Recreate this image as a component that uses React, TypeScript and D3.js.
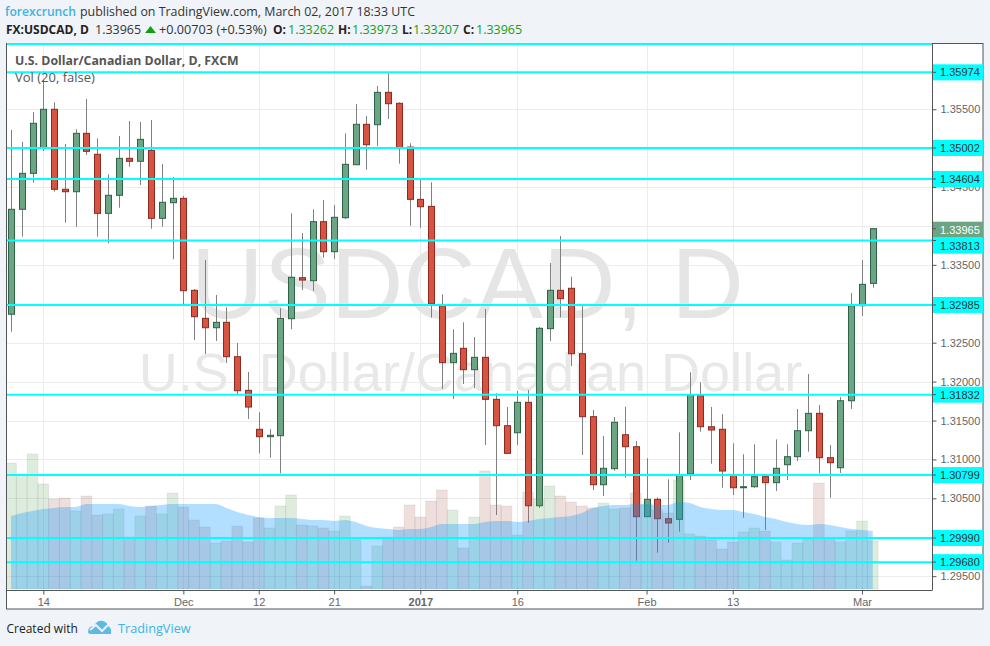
import React, { useEffect, useRef } from 'react'
import * as d3 from 'd3'

// daily USD/CAD candles, oldest first
const opens = [1.32865,1.34214,1.34676,1.34998,1.35499,1.34471,1.3444,1.3519,1.34921,1.34162,1.34394,1.34869,1.34831,1.34972,1.34098,1.34299,1.34355,1.33173,1.32813,1.32692,1.32762,1.3232,1.31888,1.31387,1.31292,1.31305,1.32808,1.33335,1.33296,1.34055,1.33669,1.34106,1.34787,1.35306,1.35301,1.35717,1.35576,1.35014,1.34342,1.34252,1.32975,1.32243,1.32428,1.32153,1.32312,1.31772,1.31433,1.31343,1.31734,1.30405,1.3268,1.33173,1.33199,1.32358,1.31549,1.30675,1.30881,1.31317,1.31163,1.30264,1.30487,1.30238,1.3023,1.30812,1.31819,1.3142,1.31387,1.30796,1.30636,1.30649,1.30778,1.30701,1.30932,1.31035,1.31369,1.31592,1.31022,1.30893,1.31754,1.32975,1.33262]
const highs = [1.35233,1.35079,1.35464,1.35875,1.35589,1.35053,1.35242,1.35631,1.35126,1.34664,1.35156,1.35349,1.35336,1.35361,1.34796,1.34629,1.34385,1.3319,1.33562,1.33113,1.32955,1.32496,1.32123,1.31605,1.31391,1.32942,1.34162,1.33909,1.34214,1.34333,1.34269,1.3519,1.35567,1.35413,1.35798,1.35961,1.35589,1.35062,1.3459,1.34561,1.33122,1.32672,1.32762,1.32573,1.32933,1.3185,1.31673,1.31879,1.31892,1.32701,1.33524,1.33871,1.33348,1.32975,1.31635,1.31301,1.31545,1.31677,1.31237,1.31014,1.30513,1.30744,1.31348,1.32119,1.31991,1.31673,1.31583,1.31207,1.31066,1.31194,1.30787,1.31258,1.31194,1.31648,1.32097,1.31699,1.31185,1.31802,1.33138,1.33562,1.33973]
const lows = [1.32641,1.33862,1.34556,1.34963,1.3444,1.34042,1.3399,1.34912,1.33862,1.33777,1.34234,1.34761,1.34526,1.33965,1.3399,1.33571,1.32997,1.32534,1.32354,1.32522,1.32239,1.3184,1.31519,1.31078,1.31022,1.30821,1.32672,1.33177,1.33164,1.33592,1.33575,1.34089,1.34783,1.34723,1.35027,1.35374,1.348,1.34003,1.33977,1.32821,1.31905,1.31776,1.31969,1.31914,1.31185,1.30286,1.31078,1.31185,1.30187,1.30376,1.32522,1.32826,1.322,1.31057,1.30607,1.3053,1.30855,1.30765,1.29698,1.3026,1.29801,1.2993,1.30071,1.30735,1.31356,1.30945,1.30636,1.30543,1.30251,1.30636,1.30093,1.30594,1.30735,1.3098,1.31099,1.30821,1.30508,1.30825,1.31648,1.32843,1.33207]
const closes = [1.34214,1.34676,1.35319,1.35499,1.34471,1.3444,1.3519,1.34959,1.34162,1.34394,1.34869,1.34831,1.35113,1.34098,1.34304,1.34355,1.33168,1.32834,1.32692,1.32762,1.3232,1.31883,1.31673,1.31292,1.3131,1.32813,1.3334,1.33305,1.34055,1.33669,1.34111,1.34792,1.35306,1.35044,1.35717,1.35571,1.35005,1.34342,1.34247,1.32997,1.32243,1.32363,1.32153,1.32312,1.31772,1.31433,1.31078,1.31734,1.30405,1.32685,1.33173,1.33065,1.32358,1.31549,1.30675,1.30886,1.31477,1.31163,1.30264,1.30487,1.30238,1.30183,1.308,1.31828,1.3142,1.31378,1.30851,1.30636,1.30649,1.30778,1.30701,1.30886,1.31035,1.31369,1.31592,1.31022,1.30958,1.31754,1.32975,1.3325,1.33965]

// volume and its 20 day average, in the picture's own relative units
const volumes = [126,114,135,105,90,91,78,93,74,75,80,52,73,83,75,96,82,69,62,46,48,63,47,71,61,83,94,64,63,61,58,73,49,3,43,52,62,84,72,88,99,79,41,72,118,84,83,54,97,90,103,93,87,83,81,86,80,81,96,84,79,76,109,55,53,49,40,47,57,61,58,47,29,46,50,106,51,47,58,68,48]
const volumeAvg = [73,76,78,80,81,82,82,85,85,85,85,83,82,83,84,85,85,85,85,85,81,77,74,72,71,71,71,70,69,69,68,69,67,63,61,60,59,60,60,62,65,65,65,65,67,68,68,67,68,70,71,72,73,76,81,83,84,84,85,85,84,84,87,86,82,80,79,79,77,75,72,70,67,65,64,65,64,62,60,59,58]

const levels = [1.35974, 1.35002, 1.34604, 1.33813, 1.32985, 1.31832, 1.30799, 1.2999, 1.2968]
const topLevel = 1.36338
const priceTicks = [1.355, 1.35, 1.345, 1.34, 1.335, 1.33, 1.325, 1.32, 1.315, 1.31, 1.305, 1.295]
// these three sit right under a level label, so they never show a number
const hiddenPriceLabels = [1.35, 1.34, 1.33]
const lastPrice = 1.33965

const dateTicks = [3, 16, 23, 30, 38, 47, 59, 67, 79]
const dateLabels = ['14', 'Dec', '12', '21', '2017', '16', 'Feb', '13', 'Mar']

const UP = '#6ba583'
const DOWN = '#d75442'
const CYAN = '#00ffff'
const BLUE = '#3bb3e4'
const GREEN_TEXT = '#12a012'
const SANS = '"Open Sans", sans-serif'
const ARIAL = '"Liberation Sans", Arial, sans-serif'

const left = 7
const right = 932
const top = 43
const bottom = 590

const App = () => {
  const ref = useRef<SVGSVGElement>(null)

  useEffect(() => {
    const svg = d3.select(ref.current)
    svg.selectAll('*').remove()

    const x = d3.scaleLinear().domain([-0.37, 85.5]).range([left, right])
    const y = d3.scaleLinear().domain([1.36351, 1.29322]).range([top, bottom])
    const yVol = d3.scaleLinear().domain([0, 140]).range([589, 449])
    const idx = d3.range(opens.length)

    svg.append('rect').attr('width', 990).attr('height', 646).attr('fill', '#f0f3f7')
    svg.append('rect')
      .attr('x', 6.5).attr('y', 43.5).attr('width', 976.5).attr('height', 565.5)
      .attr('fill', '#fff').attr('stroke', '#555')

    svg.append('clipPath').attr('id', 'plot').append('rect')
      .attr('x', left).attr('y', top).attr('width', right - left).attr('height', bottom - top)

    // grid
    const grid = svg.append('g').attr('stroke', '#ececec')
    priceTicks.forEach((p) => {
      grid.append('line').attr('x1', left).attr('x2', right)
        .attr('y1', Math.round(y(p)) + 0.5).attr('y2', Math.round(y(p)) + 0.5)
    })
    dateTicks.forEach((i) => {
      grid.append('line').attr('y1', top).attr('y2', bottom)
        .attr('x1', Math.round(x(i)) + 0.5).attr('x2', Math.round(x(i)) + 0.5)
    })

    // watermark
    svg.append('text').text('USDCAD, D')
      .attr('x', 467.5).attr('y', 318).attr('text-anchor', 'middle')
      .attr('font-family', ARIAL).attr('font-size', 100.5).attr('fill', '#e5e5e5')
    svg.append('text').text('U.S. Dollar/Canadian Dollar')
      .attr('x', 470.5).attr('y', 391).attr('text-anchor', 'middle')
      .attr('font-family', ARIAL).attr('font-size', 54).attr('fill', '#e8e8e8')

    const plot = svg.append('g').attr('clip-path', 'url(#plot)')

    // candles
    const candles = plot.append('g').selectAll('g').data(idx).enter().append('g')
    candles.append('line')
      .attr('x1', (i) => Math.round(x(i)) + 0.5).attr('x2', (i) => Math.round(x(i)) + 0.5)
      .attr('y1', (i) => y(highs[i])).attr('y2', (i) => y(lows[i]))
      .attr('stroke', '#808082')
    candles.append('rect')
      .attr('x', (i) => Math.round(x(i)) - 2.5)
      .attr('width', 6)
      .attr('y', (i) => y(Math.max(opens[i], closes[i])))
      .attr('height', (i) => Math.max(Math.abs(y(opens[i]) - y(closes[i])), 1))
      .attr('fill', (i) => (closes[i] >= opens[i] ? UP : DOWN))
      .attr('stroke', (i) => (closes[i] >= opens[i] ? '#2f6347' : '#8a2a20'))

    // volume on top of the candles
    const barW = x(1) - x(0)
    plot.append('g').selectAll('rect').data(idx).enter().append('rect')
      .attr('x', (i) => x(i) - barW / 2)
      .attr('width', barW)
      .attr('y', (i) => yVol(volumes[i]))
      .attr('height', (i) => yVol(0) - yVol(volumes[i]))
      .attr('fill', (i) => (closes[i] >= opens[i] ? 'rgba(92,160,92,0.2)' : 'rgba(168,88,78,0.2)'))
      .attr('stroke', 'rgba(110,110,110,0.1)')
    const area = d3.area<number>()
      .x((i) => x(i))
      .y0(yVol(0))
      .y1((i) => yVol(volumeAvg[i]))
      .curve(d3.curveMonotoneX)
    plot.append('path').attr('d', area(idx)).attr('fill', 'rgba(0,150,255,0.3)')

    // horizontal levels
    plot.append('g').selectAll('line').data([topLevel, ...levels]).enter().append('line')
      .attr('x1', left).attr('x2', right)
      .attr('y1', (p) => y(p)).attr('y2', (p) => y(p))
      .attr('stroke', CYAN).attr('stroke-width', 2)

    // axes
    const yAxis = svg.append('g').attr('transform', `translate(${right + 0.5},0)`)
      .call(d3.axisRight(y).tickValues(priceTicks).tickSize(4).tickPadding(4)
        .tickFormat((d) => (hiddenPriceLabels.includes(d as number) ? '' : d3.format('.5f')(d as number))))
    yAxis.select('.domain').attr('d', `M0,${top}V${bottom}`).attr('stroke', '#555')
    yAxis.selectAll('line').attr('stroke', '#555')
    yAxis.selectAll('text').attr('font-family', ARIAL).attr('font-size', 11).attr('fill', '#666')

    const xAxis = svg.append('g').attr('transform', `translate(0,${bottom + 0.5})`)
      .call(d3.axisBottom(x).tickValues(dateTicks).tickSize(4).tickPadding(4)
        .tickFormat((d, i) => dateLabels[i]))
    xAxis.select('.domain').attr('d', `M${left},0H${right + 0.5}`).attr('stroke', '#555')
    xAxis.selectAll('line').attr('stroke', '#555')
    xAxis.selectAll('text').attr('font-family', ARIAL).attr('font-size', 11).attr('fill', '#666')
      .attr('font-weight', (d) => (d === 38 ? 'bold' : 'normal'))

    // price labels
    const priceLabel = (p, cy, bg, fg) => {
      const g = svg.append('g')
      g.append('rect').attr('x', right + 1).attr('y', cy - 8).attr('width', 50).attr('height', 16).attr('fill', bg)
      g.append('line').attr('x1', right).attr('x2', right + 4)
        .attr('y1', y(p)).attr('y2', y(p)).attr('stroke', '#555')
      g.append('text').text(d3.format('.5f')(p))
        .attr('x', right + 8).attr('y', cy + 4)
        .attr('font-family', ARIAL).attr('font-size', 11).attr('fill', fg)
    }
    const lastY = y(lastPrice)
    priceLabel(lastPrice, lastY + 1, UP, '#fff')
    levels.forEach((p) => {
      let cy = y(p)
      // labels that would sit on the last price get pushed below it
      if (Math.abs(cy - lastY) < 16) cy = lastY + 17
      priceLabel(p, cy, CYAN, '#333')
    })

    // header
    const label = (t, tx, ty, size, fill, weight = 'normal', family = SANS) =>
      svg.append('text').text(t).attr('x', tx).attr('y', ty)
        .attr('font-family', family).attr('font-size', size)
        .attr('fill', fill).attr('font-weight', weight)

    // font hinting makes these jump in width between sizes, so pin them
    label('forexcrunch', 5, 16, 13, BLUE, '600').attr('textLength', 71).attr('lengthAdjust', 'spacingAndGlyphs')
    label('published on TradingView.com, March 02, 2017 18:33 UTC', 80, 16, 13, '#333')
      .attr('textLength', 335).attr('lengthAdjust', 'spacingAndGlyphs')
    label('FX:USDCAD, D', 6, 34, 12, '#222', 'bold')
    label('1.33965', 95, 34, 12.5, '#333')
    svg.append('path').attr('d', d3.line()([[145, 33], [156, 33], [150.5, 26]]) + 'Z').attr('fill', GREEN_TEXT)
    label('+0.00703 (+0.53%)', 159, 34, 12.7, '#333')
    const ohlc = [['O:', 273, '1.33262', 288], ['H:', 338, '1.33973', 352], ['L:', 402, '1.33207', 413], ['C:', 463, '1.33965', 476]]
    ohlc.forEach(([k, kx, v, vx]) => {
      label(k, kx, 34, 12, '#222', 'bold')
      label(v, vx, 34, 12.5, GREEN_TEXT)
    })

    label('U.S. Dollar/Canadian Dollar, D, FXCM', 15, 65, 12.3, '#555', 'bold')
    label('Vol (20, false)', 15, 82, 13, '#555')

    // footer
    label('Created with', 6.5, 633, 12, '#222')
    svg.append('path')
      .attr('d', 'M88,632 Q88,626 94,626 Q97,620 103,621 Q107,622 108,626 Q112,628 111,634 L92,634 Q88,634 88,632 Z')
      .attr('fill', '#5fb9e6')
    svg.append('path')
      .attr('d', 'M90,630 L96,625 L102,631 L108,625')
      .attr('fill', 'none').attr('stroke', '#f0f3f7').attr('stroke-width', 2)
    label('TradingView', 118, 633, 12.7, BLUE)
  }, [])

  return (
    <svg ref={ref} width={990} height={646} style={{ position: 'absolute', left: 0, top: 0, display: 'block' }} />
  )
}

export default App
